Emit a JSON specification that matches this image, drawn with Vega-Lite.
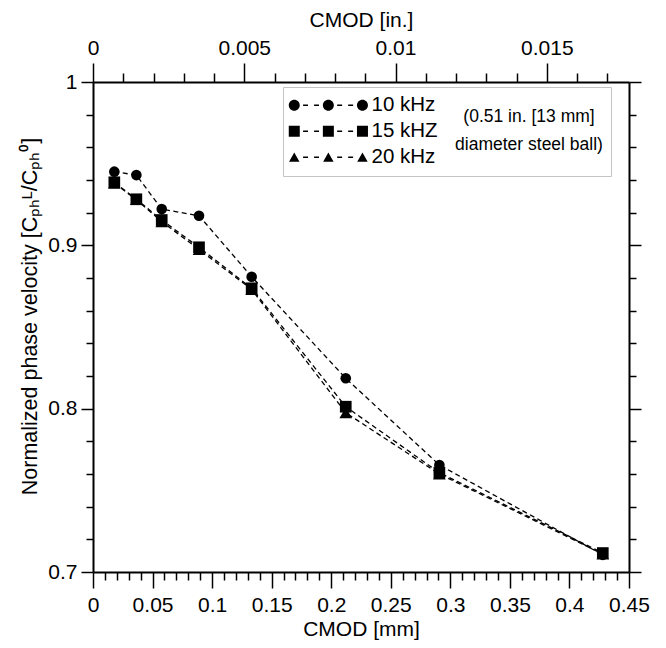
{
  "$schema": "https://vega.github.io/schema/vega-lite/v6.json",
  "autosize": "none",
  "width": 536,
  "height": 490,
  "padding": {"left": 93, "top": 82, "right": 37, "bottom": 76},
  "config": {"view": {"stroke": null}, "font": "Liberation Sans"},
  "data": {"values": [
    {"series": "20 kHz", "cmod": 0.0179, "v": 0.938},
    {"series": "20 kHz", "cmod": 0.0364, "v": 0.928},
    {"series": "20 kHz", "cmod": 0.0577, "v": 0.9145},
    {"series": "20 kHz", "cmod": 0.089, "v": 0.8975},
    {"series": "20 kHz", "cmod": 0.1332, "v": 0.873},
    {"series": "20 kHz", "cmod": 0.2122, "v": 0.7975},
    {"series": "20 kHz", "cmod": 0.2908, "v": 0.76},
    {"series": "20 kHz", "cmod": 0.428, "v": 0.711},
    {"series": "15 kHZ", "cmod": 0.0179, "v": 0.9386},
    {"series": "15 kHZ", "cmod": 0.0364, "v": 0.9282},
    {"series": "15 kHZ", "cmod": 0.0577, "v": 0.9155},
    {"series": "15 kHZ", "cmod": 0.089, "v": 0.8988},
    {"series": "15 kHZ", "cmod": 0.1332, "v": 0.8737},
    {"series": "15 kHZ", "cmod": 0.2122, "v": 0.8012},
    {"series": "15 kHZ", "cmod": 0.2908, "v": 0.7608},
    {"series": "15 kHZ", "cmod": 0.428, "v": 0.7116},
    {"series": "10 kHz", "cmod": 0.0179, "v": 0.9451},
    {"series": "10 kHz", "cmod": 0.0364, "v": 0.943},
    {"series": "10 kHz", "cmod": 0.0577, "v": 0.9222},
    {"series": "10 kHz", "cmod": 0.089, "v": 0.9181},
    {"series": "10 kHz", "cmod": 0.1332, "v": 0.8808},
    {"series": "10 kHz", "cmod": 0.2122, "v": 0.8186},
    {"series": "10 kHz", "cmod": 0.2908, "v": 0.7655},
    {"series": "10 kHz", "cmod": 0.428, "v": 0.7105}
  ]},
  "layer": [
    {
      "mark": {"type": "line", "color": "black", "strokeWidth": 1.3, "strokeDash": [5, 3.5]},
      "encoding": {
        "x": {"field": "cmod", "type": "quantitative",
          "scale": {"domain": [0, 0.45], "nice": false, "zero": false},
          "axis": {"orient": "bottom", "title": "CMOD [mm]", "grid": false,
            "values": [0,0.01,0.02,0.03,0.04,0.05,0.06,0.07,0.08,0.09,0.1,0.11,0.12,0.13,0.14,0.15,0.16,0.17,0.18,0.19,0.2,0.21,0.22,0.23,0.24,0.25,0.26,0.27,0.28,0.29,0.3,0.31,0.32,0.33,0.34,0.35,0.36,0.37,0.38,0.39,0.4,0.41,0.42,0.43,0.44,0.45],
            "labelExpr": "round(datum.value*100)%5==0 ? format(datum.value,'~g') : ''",
            "tickSize": {"condition": {"test": "round(datum.value*100)%5==0", "value": 16}, "value": 8},
            "domainColor": "black", "domainWidth": 2, "tickColor": "black", "tickWidth": 1.5,
            "labelColor": "black", "labelFontSize": 21, "labelPadding": 6, "labelFlush": false, "labelOverlap": false,
            "titleColor": "black", "titleFontSize": 21, "titleFontWeight": "normal", "titlePadding": 3}},
        "y": {"field": "v", "type": "quantitative",
          "scale": {"domain": [0.7, 1], "nice": false, "zero": false},
          "axis": {"orient": "left", "title": "Normalized phase velocity [Cₚₕᴸ/Cₚₕ⁰]", "grid": false,
            "values": [0.7,0.72,0.74,0.76,0.78,0.8,0.82,0.84,0.86,0.88,0.9,0.92,0.94,0.96,0.98,1],
            "labelExpr": "round(datum.value*100)%10==0 ? format(datum.value,'~g') : ''",
            "tickSize": {"condition": {"test": "round(datum.value*100)%10==0", "value": 12}, "value": 7},
            "domainColor": "black", "domainWidth": 2, "tickColor": "black", "tickWidth": 1.5,
            "labelColor": "black", "labelFontSize": 21, "labelPadding": 4, "labelFlush": false, "labelOverlap": false,
            "titleColor": "black", "titleFontSize": 21.5, "titleFontWeight": "normal", "titlePadding": 6, "titleY": 234}},
        "detail": {"field": "series"}
      }
    },
    {
      "mark": {"type": "point", "filled": true, "color": "black", "opacity": 1, "strokeWidth": 0},
      "encoding": {
        "x": {"field": "cmod", "type": "quantitative",
          "axis": {"orient": "top", "title": "CMOD [in.]", "grid": false,
            "values": [0,0.0254,0.0508,0.0762,0.1016,0.127,0.1524,0.1778,0.2032,0.2286,0.254,0.2794,0.3048,0.3302,0.3556,0.381,0.4064,0.4318],
            "labelExpr": "round(datum.value/0.0254)%5==0 ? format(datum.value/25.4,'~g') : ''",
            "tickSize": {"condition": {"test": "round(datum.value/0.0254)%5==0", "value": 19}, "value": 9},
            "domainColor": "black", "domainWidth": 2, "tickColor": "black", "tickWidth": 1.5,
            "labelColor": "black", "labelFontSize": 21, "labelPadding": 5, "labelFlush": false, "labelOverlap": false,
            "titleColor": "black", "titleFontSize": 21, "titleFontWeight": "normal", "titlePadding": 7}},
        "y": {"field": "v", "type": "quantitative",
          "axis": {"orient": "right", "title": null, "grid": false, "labels": false,
            "values": [0.7,0.72,0.74,0.76,0.78,0.8,0.82,0.84,0.86,0.88,0.9,0.92,0.94,0.96,0.98,1],
            "tickSize": {"condition": {"test": "round(datum.value*100)%10==0", "value": 12}, "value": 7},
            "domainColor": "black", "domainWidth": 2, "tickColor": "black", "tickWidth": 1.5}},
        "shape": {"field": "series", "type": "nominal",
          "scale": {"domain": ["10 kHz", "15 kHZ", "20 kHz"], "range": ["circle", "square", "triangle-up"]},
          "legend": null},
        "size": {"field": "series", "type": "nominal",
          "scale": {"domain": ["10 kHz", "15 kHZ", "20 kHz"], "range": [113, 160, 130]},
          "legend": null}
      }
    },
    {
      "transform": [{"filter": "false"}],
      "mark": {"type": "point", "filled": true, "color": "black", "opacity": 1, "strokeWidth": 0},
      "encoding": {
        "x": {"field": "cmod", "type": "quantitative", "axis": null},
        "y": {"field": "v", "type": "quantitative", "axis": null},
        "shape": {"field": "series", "type": "nominal",
          "scale": {"domain": ["10 kHz", "15 kHZ", "20 kHz"], "range": [
            "M-2.27,0A1,1,0,1,1,-0.27,0A1,1,0,1,1,-2.27,0Z M3.93,0A1,1,0,1,1,5.93,0A1,1,0,1,1,3.93,0Z M10.13,0A1,1,0,1,1,12.13,0A1,1,0,1,1,10.13,0Z M0.33,-0.13H1.23V0.13H0.33Z M2.33,-0.13H3.23V0.13H2.33Z M6.53,-0.13H7.43V0.13H6.53Z M8.53,-0.13H9.43V0.13H8.53Z",
            "M-2.27,-1H-0.27V1H-2.27Z M3.93,-1H5.93V1H3.93Z M10.13,-1H12.13V1H10.13Z M0.33,-0.13H1.23V0.13H0.33Z M2.33,-0.13H3.23V0.13H2.33Z M6.53,-0.13H7.43V0.13H6.53Z M8.53,-0.13H9.43V0.13H8.53Z",
            "M-2.22,0.8L-1.27,-0.85L-0.32,0.8Z M3.98,0.8L4.93,-0.85L5.88,0.8Z M10.18,0.8L11.13,-0.85L12.08,0.8Z M0.33,-0.13H1.23V0.13H0.33Z M2.33,-0.13H3.23V0.13H2.33Z M6.53,-0.13H7.43V0.13H6.53Z M8.53,-0.13H9.43V0.13H8.53Z"
          ]},
          "legend": {
            "orient": "none", "legendX": 190, "legendY": 5,
            "title": ["(0.51 in. [13 mm]", "diameter steel ball)"],
            "titleOrient": "right", "titleAlign": "center", "titleAnchor": "middle", "titleBaseline": "middle",
            "titleFontSize": 17.5, "titleFontWeight": "normal", "titleColor": "black", "titleLineHeight": 28, "titlePadding": 91,
            "labelFontSize": 20.5, "labelColor": "black", "labelOffset": 60,
            "symbolSize": 121, "symbolFillColor": "black", "symbolStrokeColor": "black", "symbolStrokeWidth": 0, "symbolOpacity": 1,
            "rowPadding": 5, "padding": 8, "strokeColor": "#c4c4c4",
            "encode": {"legend": {"update": {"strokeWidth": {"value": 1.5}}}, "title": {"update": {"dy": {"value": -7}}}}
          }}
      }
    }
  ],
  "resolve": {"axis": {"x": "independent", "y": "independent"}, "scale": {"shape": "independent"}}
}
